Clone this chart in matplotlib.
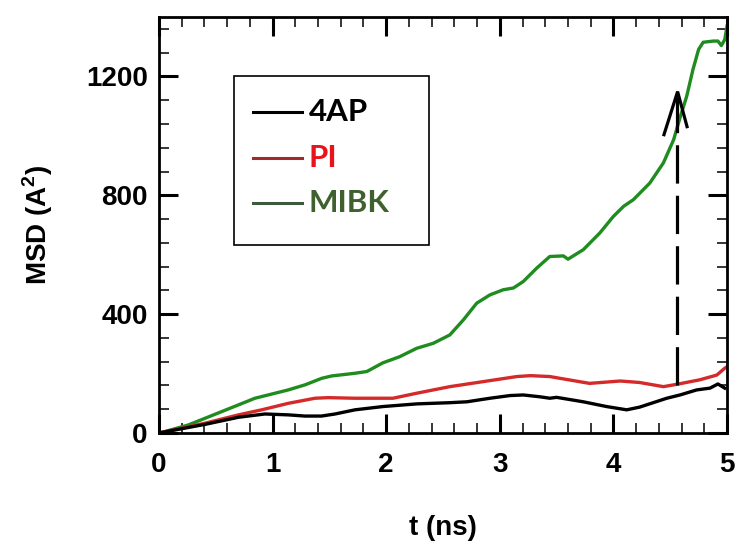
import matplotlib
matplotlib.use("Agg")
import matplotlib.pyplot as plt
from matplotlib.lines import Line2D
from matplotlib.patches import Rectangle
from matplotlib.ticker import MultipleLocator

# MSD curves (time in ns, MSD in A^2)
t_mibk = [0.0, 0.026, 0.258, 0.552, 0.845, 1.138, 1.285, 1.432, 1.52, 1.725, 1.83, 1.97,
          2.12, 2.268, 2.415, 2.56, 2.68, 2.797, 2.914, 3.03, 3.12, 3.207, 3.325, 3.44,
          3.50, 3.56, 3.60, 3.735, 3.88, 4.0, 4.09, 4.175, 4.32, 4.44, 4.53, 4.59, 4.645,
          4.70, 4.75, 4.79, 4.88, 4.92, 4.95, 4.98, 5.0]
msd_mibk = [0, 2, 27, 72, 117, 145, 162, 184, 192, 201, 207, 236,
            257, 285, 302, 330, 381, 437, 465, 482, 488, 510, 555, 594,
            595, 596, 585, 617, 673, 729, 763, 785, 841, 909, 987, 1066, 1133,
            1223, 1291, 1315, 1319, 1319, 1304, 1324, 1369]

t_pi = [0.0, 0.026, 0.405, 0.70, 0.904, 1.14, 1.373, 1.49, 1.725, 2.06, 2.27, 2.56,
        2.855, 3.15, 3.27, 3.44, 3.53, 3.79, 4.06, 4.23, 4.44, 4.56, 4.76, 4.91, 4.98, 5.0]
msd_pi = [0, 2, 33, 61, 78, 100, 117, 119, 117, 117, 134, 156,
          173, 190, 193, 190, 184, 167, 175, 170, 156, 164, 179, 195, 218, 223]

t_4ap = [0.0, 0.026, 0.405, 0.70, 0.933, 1.14, 1.285, 1.43, 1.55, 1.725, 1.97, 2.27,
         2.56, 2.71, 2.914, 3.09, 3.207, 3.35, 3.44, 3.50, 3.735, 3.94, 4.117, 4.23,
         4.47, 4.586, 4.733, 4.85, 4.92, 4.98]
msd_4ap = [0, 2, 29, 53, 64, 61, 57, 57, 64, 78, 89, 98,
           102, 105, 117, 126, 128, 122, 117, 120, 105, 89, 78, 87,
           117, 128, 145, 151, 165, 151]

# Marker for the 4.56 ns event
event_t = 4.56
event_msd_low = 162
event_msd_high = 1130
arrow_t = [4.445, 4.565, 4.648]
arrow_msd = [1004, 1149, 1031]

series_labels = ["4AP", "PI", "MIBK"]
line_colors = ["#000000", "#a32a2a", "#3e5a3e"]
text_colors = ["#000000", "#e8141c", "#3f6130"]

x_ticks = [0, 1, 2, 3, 4, 5]
y_ticks = [0, 400, 800, 1200]

plt.rcParams["font.family"] = ["Liberation Sans", "DejaVu Sans"]
plt.rcParams["font.weight"] = "bold"
plt.rcParams["mathtext.fontset"] = "custom"
plt.rcParams["mathtext.rm"] = "Liberation Sans:bold"
plt.rcParams["mathtext.bf"] = "Liberation Sans:bold"

fig = plt.figure(figsize=(7.36, 5.45), dpi=100)
ax = fig.add_axes([0.216, 0.2055, 0.7718, 0.7633])

ax.plot(t_mibk, msd_mibk, color="#1e8c1e", lw=2.4)
ax.plot(t_pi, msd_pi, color="#d42a2a", lw=2.4)
ax.plot(t_4ap, msd_4ap, color="#000000", lw=2.4)

ax.plot([event_t, event_t], [event_msd_low, event_msd_high], color="black",
        lw=2.3, linestyle=(0, (12.0, 3.8)))
ax.plot(arrow_t, arrow_msd, color="black", lw=2.3, solid_joinstyle="miter")

ax.set_xlim(0, 5)
ax.set_ylim(0, 1400)
ax.set_xticks(x_ticks)
ax.set_yticks(y_ticks)
ax.xaxis.set_minor_locator(MultipleLocator(0.2))
ax.yaxis.set_minor_locator(MultipleLocator(80))

ax.tick_params(which="both", direction="in", top=True, right=True)
ax.tick_params(which="major", length=13.5, width=2.2, labelsize=20)
ax.tick_params(axis="x", which="major", pad=14)
ax.tick_params(axis="y", which="major", pad=8)
ax.tick_params(which="minor", length=7, width=1.1)
for s in ax.spines.values():
    s.set_linewidth(2.0)

ax.set_xlabel("t (ns)", fontsize=20, fontweight="bold", labelpad=26)
ax.set_ylabel(r"MSD (A$^{\mathbf{2}}$)", fontsize=20, fontweight="bold", labelpad=22)

# Legend box drawn in axes coordinates
trans = ax.transAxes
def px_to_ax(px, py):
    return ((px - 159) / 568.0, (433 - py) / 416.0)

x0, y0 = px_to_ax(234, 245)
x1, y1 = px_to_ax(429, 76)
ax.add_patch(Rectangle((x0, y0), x1 - x0, y1 - y0, transform=trans,
                       fill=False, edgecolor="black", lw=1.2, zorder=5))
rows_py = [112, 158, 203]
for lab, lc, tc, py in zip(series_labels, line_colors, text_colors, rows_py):
    ha, ya = px_to_ax(253, py)
    hb, _ = px_to_ax(302, py)
    ax.add_line(Line2D([ha, hb], [ya, ya], transform=trans, color=lc, lw=2.2, zorder=6))
    tx, _ = px_to_ax(309, py)
    ax.text(tx, ya, lab, transform=trans, color=tc, fontsize=22.5, fontweight="bold",
            family=["Lato", "Liberation Sans", "DejaVu Sans"], va="center", ha="left", zorder=6)

fig.savefig("out.png", dpi=100)
